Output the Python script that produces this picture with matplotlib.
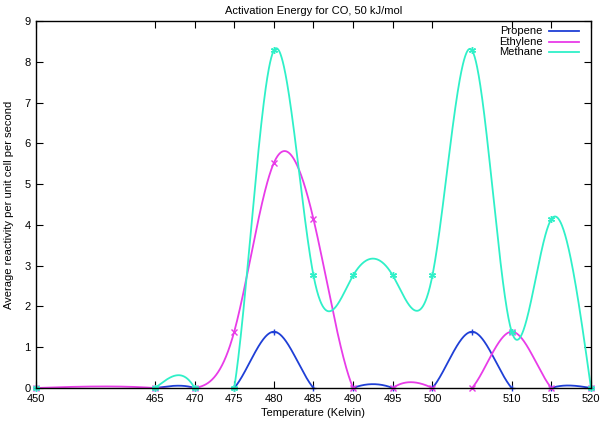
import numpy as np
import matplotlib
matplotlib.use("Agg")
import matplotlib.pyplot as plt
from matplotlib.lines import Line2D

# temperatures (Kelvin) and reactivities
temps = [450, 465, 470, 475, 480, 485, 490, 495, 500, 505, 510, 515, 520]
propene = [0, 0, 0, 0, 1.38, 0, 0, 0, 0, 1.38, 0, 0, 0]
ethylene = [0, 0, 0, 1.38, 5.52, 4.14, 0, 0, 0, 0, 1.38, 0, 0]
methane = [0, 0, 0, 0, 8.28, 2.76, 2.76, 2.76, 2.76, 8.28, 1.38, 4.14, 0]

xticks = [450, 465, 470, 475, 480, 485, 490, 495, 500, 510, 515, 520]
names = ["Propene", "Ethylene", "Methane"]
colors = ["#1f3fd6", "#e83ce8", "#2ff0c8"]
markers = ["+", "x", (6, 2, 0)]


def natural_spline(x, y, xs):
    # same idea as gnuplot's "smooth csplines"
    x = np.asarray(x, float)
    y = np.asarray(y, float)
    n = len(x)
    h = np.diff(x)
    A = np.zeros((n, n))
    b = np.zeros(n)
    A[0, 0] = 1
    A[-1, -1] = 1
    for i in range(1, n - 1):
        A[i, i - 1] = h[i - 1]
        A[i, i] = 2 * (h[i - 1] + h[i])
        A[i, i + 1] = h[i]
        b[i] = 6 * ((y[i + 1] - y[i]) / h[i] - (y[i] - y[i - 1]) / h[i - 1])
    m = np.linalg.solve(A, b)
    idx = np.clip(np.searchsorted(x, xs) - 1, 0, n - 2)
    x0, x1 = x[idx], x[idx + 1]
    hh = x1 - x0
    t0 = x1 - xs
    t1 = xs - x0
    return (m[idx] * t0**3 / (6 * hh) + m[idx + 1] * t1**3 / (6 * hh)
            + (y[idx] / hh - m[idx] * hh / 6) * t0
            + (y[idx + 1] / hh - m[idx + 1] * hh / 6) * t1)


plt.rcParams['font.family'] = ['Liberation Sans', 'DejaVu Sans']

fig = plt.figure(figsize=(6.02, 4.21), dpi=100)
ax = fig.add_axes([0.0598, 0.0784, 0.9219, 0.8716])

xs = np.linspace(450, 520, 1400)
for vals, c, mk in zip([propene, ethylene, methane], colors, markers):
    ax.plot(xs, natural_spline(temps, vals, xs), color=c, lw=1.3)
    ax.plot(temps, vals, ls="none", marker=mk, color=c, ms=5, mew=1,
            clip_on=False)

ax.set_xlim(450, 520)
ax.set_ylim(0, 9)
ax.set_xticks(xticks)
ax.set_yticks(range(10))
ax.tick_params(direction="in", top=True, right=True, labelsize=8,
               length=5, width=0.8, pad=4)
for s in ax.spines.values():
    s.set_linewidth(1.0)

ax.set_title("Activation Energy for CO, 50 kJ/mol", fontsize=8, pad=5)
ax.set_xlabel("Temperature (Kelvin)", fontsize=8, labelpad=3)
ax.set_ylabel("Average reactivity per unit cell per second", fontsize=8,
              labelpad=7)

# gnuplot style key: right aligned text, line sample on the right
for i, (nm, c) in enumerate(zip(names, colors)):
    yy = 0.972 - i * 0.0285
    ax.text(0.9135, yy, nm, transform=ax.transAxes, ha="right",
            va="center", fontsize=8)
    ax.add_line(Line2D([0.924, 0.978], [yy, yy], transform=ax.transAxes,
                       color=c, lw=1.3))

fig.savefig("out.png", dpi=100)
